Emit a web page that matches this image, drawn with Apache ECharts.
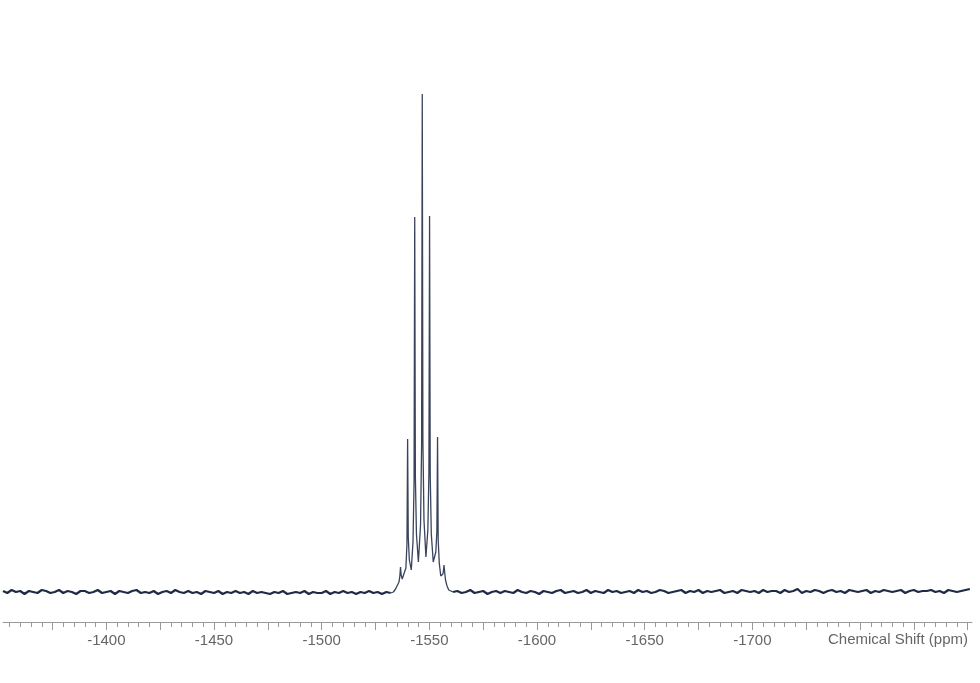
<!DOCTYPE html>
<html>
<head>
<meta charset="utf-8">
<script src="https://cdn.jsdelivr.net/npm/echarts@6/dist/echarts.min.js"></script>
<style>html,body{margin:0;padding:0;background:#fff;}#chart{width:980px;height:683px;}</style>
</head>
<body>
<div id="chart"></div>
<script>
// Tick labels (ppm)
const tickLabels = [-1400, -1450, -1500, -1550, -1600, -1650, -1700];
const axisMin = -1802;
const axisMax = -1352;
const axisTitle = 'Chemical Shift (ppm)';

// Baseline left of the multiplet: sampled every 2 ppm starting at -1352
const leftStart = -1352;
const leftStep = 2;
const leftBaseline = [1, -1, 2, 0, 1, -2, 1, 0, -1, 2, 1, -1, 0, 2, -1, 1, 0, -2, 1, 1, -1, 0, 2, -1, 0, 1, -2, 1, 0, -1, 1, 2, -1, 0, -1, 1, -2, 0, 1, -1, 2, 0, -1, 1, -1, 0, -2, 1, 0, -1, 1, -2, 0, -1, 1, -1, 0, -2, 1, -1, 0, -1, -2, 0, -1, 1, -2, -1, 0, -1, 1, -2, 0, -1, -1, 1, -2, 0, -1, 1, -1, 0, -2, 0, -1, 1, -1, 0, -2, 0, -1];

// Multiplet region: [ppm, intensity]
const multiplet = [
  [-1533.3, 0], [-1534.3, 3], [-1535.2, 7], [-1535.9, 10], [-1536.3, 16], [-1536.6, 25], [-1536.9, 17], [-1537.4, 13],
  [-1538.0, 13], [-1539.1, 24], [-1539.6, 48], [-1539.9, 153], [-1540.2, 55], [-1540.7, 32],
  [-1541.6, 22], [-1542.4, 50], [-1542.9, 110], [-1543.2, 375], [-1543.5, 116], [-1544.0, 58],
  [-1544.9, 30], [-1545.9, 67], [-1546.4, 147], [-1546.7, 498], [-1547.0, 151], [-1547.5, 72],
  [-1548.4, 35], [-1549.3, 62], [-1549.8, 120], [-1550.1, 376], [-1550.4, 117], [-1550.9, 58],
  [-1551.8, 30], [-1553.0, 40], [-1553.5, 61], [-1553.8, 155], [-1554.1, 52], [-1554.6, 29],
  [-1555.3, 16], [-1556.3, 18], [-1556.6, 22], [-1556.8, 27], [-1557.1, 20], [-1557.5, 12],
  [-1558.2, 6], [-1559.0, 2], [-1559.6, 0]
];

// Baseline right of the multiplet: sampled every 2 ppm starting at -1561
const rightStart = -1561;
const rightStep = 2;
const rightBaseline = [0, 1, -1, 0, 2, -1, 0, 1, -2, 0, 1, -1, 1, 0, -1, 2, 0, -1, 1, 0, -2, 1, 0, -1, 1, 2, -1, 0, 1, -1, 0, 2, -1, 1, 0, -1, 2, 0, 1, -1, 0, 1, -1, 2, 0, 1, -1, 0, 2, 1, -1, 0, 1, 2, -1, 1, 0, 2, -1, 1, 0, 1, 2, -1, 0, 1, -1, 2, 1, 0, 1, -1, 2, 0, 1, 1, -1, 2, 0, 1, 3, -1, 1, 0, 2, 1, -1, 1, 2, 0, 1, -1, 2, 1, 0, 1, 2, -1, 1, 0, 2, 1, 0, 1, 2, -1, 1, 2, 0, 1, 1, 2, 0, 1, -1, 2, 1, 0, 1, 2, 3];

const leftData = leftBaseline.map((v, i) => [leftStart - i * leftStep, v]);
const rightData = rightBaseline.map((v, i) => [rightStart - i * rightStep, v]);
const peakData = [leftData[leftData.length - 1]].concat(multiplet, [rightData[0]]);

const minorTicks = [];
for (let t = -1800; t <= -1355; t += 5) minorTicks.push(t);
const majorTicks = [];
for (let t = -1800; t <= -1355; t += 25) majorTicks.push(t);

const lineColor = '#1f2a44';
const chart = echarts.init(document.getElementById('chart'), null, {renderer: 'canvas'});
chart.setOption({
  animation: false,
  backgroundColor: '#ffffff',
  grid: {left: 3, right: 8, top: 0, bottom: 61, containLabel: false},
  xAxis: [
    {
      type: 'value', min: axisMin, max: axisMax, inverse: true, position: 'bottom',
      axisLine: {show: true, onZero: false, lineStyle: {color: '#9a9a9a', width: 1}},
      axisTick: {show: true, customValues: minorTicks, length: 5, lineStyle: {color: '#9a9a9a'}},
      axisLabel: {show: true, customValues: tickLabels, formatter: v => String(v),
        fontSize: 15, color: '#666', fontFamily: 'Liberation Sans', margin: 11},
      splitLine: {show: false}
    },
    {
      type: 'value', min: axisMin, max: axisMax, inverse: true, position: 'bottom',
      axisLine: {show: false, onZero: false},
      axisTick: {show: true, customValues: majorTicks, length: 8, lineStyle: {color: '#9a9a9a'}},
      axisLabel: {show: false},
      splitLine: {show: false}
    }
  ],
  yAxis: {type: 'value', min: -30, max: 592, show: false, splitLine: {show: false}},
  graphic: [{
    type: 'text', right: 12, top: 632,
    style: {text: axisTitle, font: '15px "Liberation Sans"', fill: '#666'}
  }],
  series: [
    {type: 'line', xAxisIndex: 0, data: leftData, showSymbol: false, symbol: 'none',
      lineStyle: {color: lineColor, width: 2.2}},
    {type: 'line', xAxisIndex: 0, data: peakData, showSymbol: false, symbol: 'none',
      lineStyle: {color: '#39435c', width: 1.3}},
    {type: 'line', xAxisIndex: 0, data: rightData, showSymbol: false, symbol: 'none',
      lineStyle: {color: lineColor, width: 2.2}}
  ]
});
</script>
</body>
</html>
